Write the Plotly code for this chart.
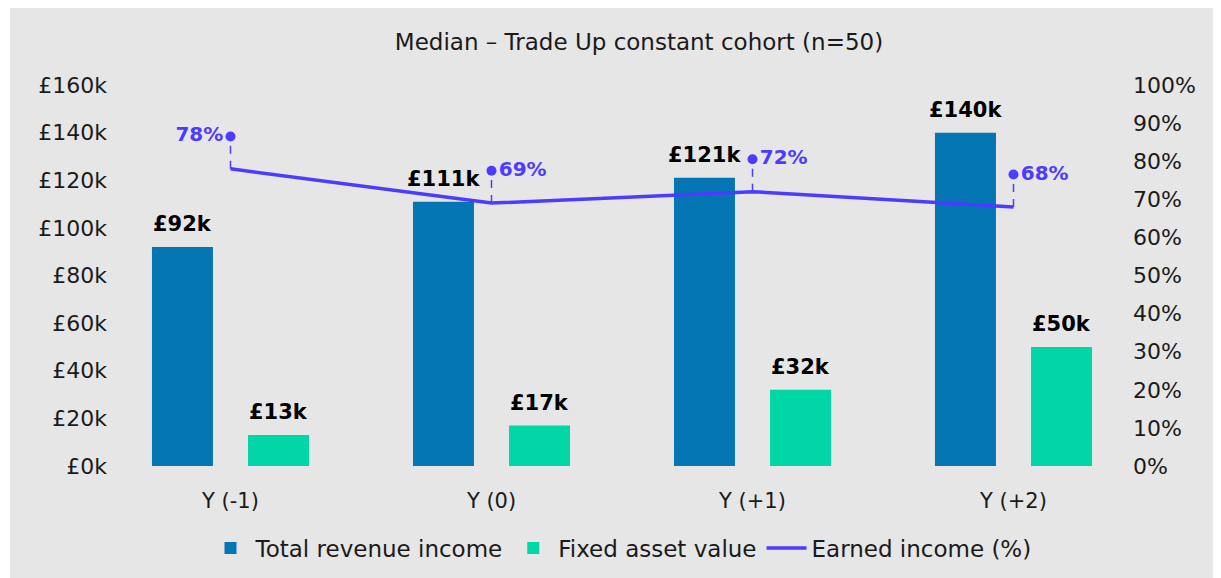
import plotly.graph_objects as go

categories = ["Y (-1)", "Y (0)", "Y (+1)", "Y (+2)"]
total_revenue_k = [92, 111, 121, 140]
fixed_asset_k = [13, 17, 32, 50]
earned_income_pct = [78, 69, 72, 68]
pct_label_side = ["middle left", "middle right", "middle right", "middle right"]

left_ticks = [0, 20, 40, 60, 80, 100, 120, 140, 160]
left_tick_text = [f"£{v}k" for v in left_ticks]
right_ticks = [0, 10, 20, 30, 40, 50, 60, 70, 80, 90, 100]
right_tick_text = [f"{v}%" for v in right_ticks]

BLUE = "#0576B4"
TEAL = "#00D6A6"
PURPLE = "#4B3CFF"
BG = "#E6E6E6"
FONT = "DejaVu Sans"

OFF = 8
W, H = 1221 - OFF, 578 - OFF
L, R, T, B = 115 - OFF, 1125 - OFF, 85 - OFF, 466 - OFF
cat_px = 261.0
x0 = -0.5 + (115 - 100) / cat_px
x1 = x0 + (R - L) / cat_px

callout_off = 8.5
dash_top = 6.6
bar_half_slot = 48

fig = go.Figure()

fig.add_trace(go.Bar(
    x=categories, y=total_revenue_k, name="Total revenue income",
    marker=dict(color=BLUE, line=dict(width=0)),
))
fig.add_trace(go.Bar(
    x=categories, y=fixed_asset_k, name="Fixed asset value",
    marker=dict(color=TEAL, line=dict(width=0)),
))
fig.add_trace(go.Scatter(
    x=categories, y=earned_income_pct, name="Earned income (%)", yaxis="y2",
    mode="lines", line=dict(color=PURPLE, width=3.5),
))

lx, ly = [], []
for c, v in zip(categories, earned_income_pct):
    lx += [c, c, None]
    ly += [v, v + dash_top, None]
fig.add_trace(go.Scatter(
    x=lx, y=ly, yaxis="y2", mode="lines", showlegend=False, hoverinfo="skip",
    line=dict(color=PURPLE, width=1.5, dash="8px,7px"),
))
fig.add_trace(go.Scatter(
    x=categories, y=[v + callout_off for v in earned_income_pct], yaxis="y2",
    mode="markers+text", showlegend=False,
    marker=dict(color=PURPLE, size=10),
    text=[f"{v}%" for v in earned_income_pct], textposition=pct_label_side,
    textfont=dict(family=FONT, size=20, color=PURPLE, weight="bold"),
    cliponaxis=False,
))

for series, shift in ((total_revenue_k, -bar_half_slot), (fixed_asset_k, bar_half_slot)):
    for c, v in zip(categories, series):
        fig.add_annotation(
            x=c, y=v, xref="x", yref="y", text=f"£{v}k", showarrow=False,
            xshift=shift, yshift=9, yanchor="bottom",
            font=dict(family=FONT, size=21, color="#000000", weight="bold"),
        )

fig.add_shape(
    type="rect", xref="paper", yref="paper",
    x0=(2 - L) / (R - L), x1=(1208 - L) / (R - L),
    y0=(B - H - 20) / (B - T), y1=(B + 20) / (B - T),
    fillcolor=BG, line=dict(width=0), layer="below",
)

fig.update_layout(
    width=W, height=H,
    margin=dict(l=L, r=W - R, t=T, b=H - B, autoexpand=False),
    paper_bgcolor="white", plot_bgcolor="rgba(0,0,0,0)",
    font=dict(family=FONT, size=22, color="#1a1a1a"),
    barmode="group", bargap=0.264, bargroupgap=0.365,
    title=dict(text="Median – Trade Up constant cohort (n=50)",
               xref="container", x=(639 - OFF) / W, xanchor="center",
               yref="container", y=1 - (42 - OFF) / H, yanchor="middle",
               font=dict(family=FONT, size=23, color="#1a1a1a")),
    xaxis=dict(range=[x0, x1], showgrid=False, zeroline=False, showline=False,
               ticks="", tickfont=dict(size=21), ticklabelstandoff=20),
    yaxis=dict(range=[0, 160], tickmode="array", tickvals=left_ticks, ticktext=left_tick_text,
               showgrid=False, zeroline=False, showline=False, ticks="",
               tickfont=dict(size=22), ticklabelstandoff=7),
    yaxis2=dict(range=[0, 100], overlaying="y", side="right", tickmode="array",
                tickvals=right_ticks, ticktext=right_tick_text,
                showgrid=False, zeroline=False, showline=False,
                ticks="", tickfont=dict(size=22), ticklabelstandoff=7),
    legend=dict(orientation="h", xref="container", x=(621 - OFF) / W, xanchor="center",
                yref="container", y=1 - (548 - OFF) / H, yanchor="middle",
                font=dict(size=23), bgcolor="rgba(0,0,0,0)", traceorder="normal",
                itemwidth=40),
    showlegend=True,
)

fig.write_html("out.html")
